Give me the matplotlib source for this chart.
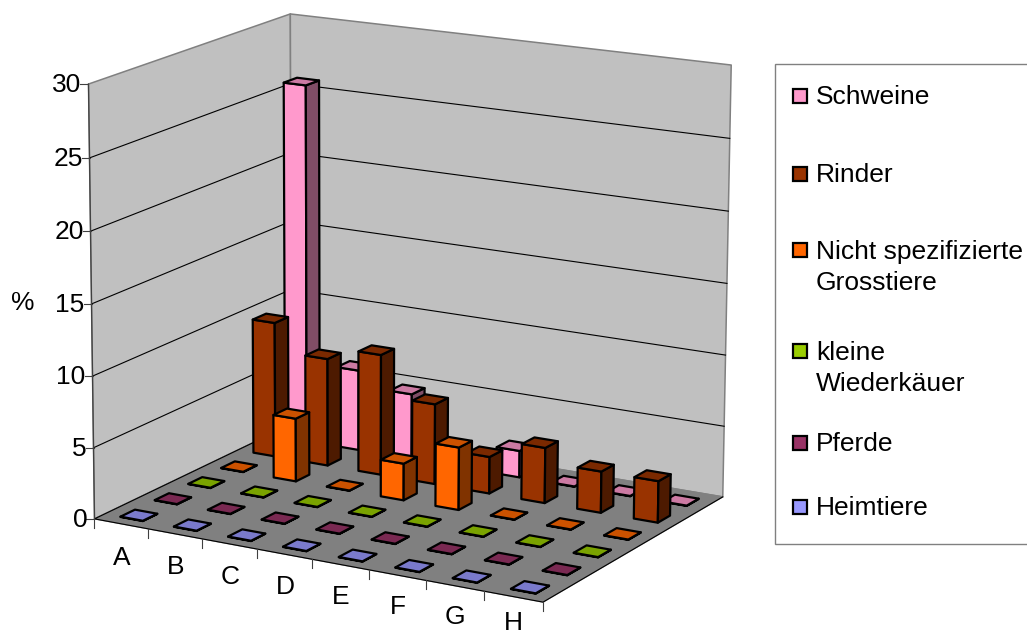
# 3D column chart, drawn on a flat axes with a fitted camera matrix
import matplotlib
matplotlib.use('Agg')
import matplotlib.pyplot as plt
from matplotlib.patches import Polygon, Rectangle
import numpy as np

plt.rcParams['font.family'] = ['Liberation Sans', 'DejaVu Sans']

categories = ['A', 'B', 'C', 'D', 'E', 'F', 'G', 'H']
series_names = ['Heimtiere', 'Pferde', 'kleine\nWiederkäuer',
                'Nicht spezifizierte\nGrosstiere', 'Rinder', 'Schweine']
heimtiere = [0.02, 0.02, 0.02, 0.02, 0.02, 0.02, 0.02, 0.02]
pferde = [0.02, 0.02, 0.02, 0.02, 0.02, 0.02, 0.02, 0.02]
wiederkaeuer = [0.02, 0.02, 0.02, 0.02, 0.02, 0.02, 0.02, 0.02]
grosstiere = [0.02, 4.5, 0.02, 2.6, 4.4, 0.02, 0.02, 0.02]
rinder = [9.7, 7.7, 8.6, 5.7, 2.6, 3.9, 2.9, 2.9]
schweine = [25.8, 5.8, 4.7, 0.5, 1.9, 0.02, 0.02, 0.02]
series = [heimtiere, pferde, wiederkaeuer, grosstiere, rinder, schweine]
yticks = [0, 5, 10, 15, 20, 25, 30]

# front, top, side
colors = [('#9999FF', '#7A7ACC', '#4D4D80'),
          ('#993366', '#7A2952', '#4D1A33'),
          ('#99CC00', '#7AA300', '#4D6600'),
          ('#FF6600', '#CC5200', '#803300'),
          ('#993300', '#7A2900', '#4D1A00'),
          ('#FF99CC', '#CC7AA3', '#804D66')]

# fit the camera from where the box corners sit in the picture
world = [(0, 0, 0), (8, 0, 0), (0, 6, 0), (8, 6, 0), (0, 0, 30), (0, 6, 30), (8, 6, 30)]
image = [(95, 519), (543, 602), (291, 424), (723, 497), (88, 84), (291, 14), (731, 65)]
A = []
b = []
for (X, Y, Z), (u, v) in zip(world, image):
    A.append([X, Y, Z, 1, 0, 0, 0, 0, -u * X, -u * Y, -u * Z])
    A.append([0, 0, 0, 0, X, Y, Z, 1, -v * X, -v * Y, -v * Z])
    b += [u, v]
P = np.append(np.linalg.lstsq(np.array(A, float), np.array(b, float), rcond=None)[0], 1).reshape(3, 4)


def proj(x, y, z):
    h = P @ np.array([x, y, z, 1.0])
    return h[0] / h[2], h[1] / h[2]


fig = plt.figure(figsize=(10.27, 6.37), dpi=100)
ax = fig.add_axes([0, 0, 1, 1])
ax.set_xlim(0, 1027)
ax.set_ylim(637, 0)
ax.axis('off')


def face(pts, fc, ec='black', lw=1.6, z=1):
    ax.add_patch(Polygon([proj(*p) for p in pts], closed=True, fc=fc, ec=ec, lw=lw,
                         joinstyle='round', zorder=z))


# walls and floor
top = yticks[-1]
nx = len(categories)
ny = len(series)
face([(0, 0, 0), (0, ny, 0), (0, ny, top), (0, 0, top)], '#C0C0C0', ec='#808080', lw=1.1)
face([(0, ny, 0), (nx, ny, 0), (nx, ny, top), (0, ny, top)], '#C0C0C0', ec='#808080', lw=1.1)
for t in yticks[1:-1]:
    xs, ys = zip(proj(0, 0, t), proj(0, ny, t), proj(nx, ny, t))
    ax.plot(xs, ys, color='black', lw=0.8, zorder=1.5)
face([(0, 0, 0), (nx, 0, 0), (nx, ny, 0), (0, ny, 0)], '#808080', ec='#808080', lw=1.0)
xs, ys = zip(proj(0, ny, 0), proj(0, 0, 0), proj(nx, 0, 0), proj(nx, ny, 0))
ax.plot(xs, ys, color='black', lw=0.8, zorder=1.6)

# value axis
xs, ys = zip(proj(0, 0, 0), proj(0, 0, top))
ax.plot(xs, ys, color='#404040', lw=0.9, zorder=1.6)
for t in yticks:
    x, y = proj(0, 0, t)
    ax.plot([x - 8, x], [y, y], color='#404040', lw=0.8)
    ax.text(x - 7, y + 1, str(t), ha='right', va='center', fontsize=19)
ax.text(23, 303, '%', ha='center', va='center', fontsize=19)

# category axis
for i in range(nx + 1):
    x, y = proj(i, 0, 0)
    ax.plot([x, x], [y, y + 9], color='#404040', lw=0.8)
for i, c in enumerate(categories):
    x, y = proj(i + 0.5, 0, 0)
    # keep the last label inside the picture
    ax.text(x + 1 - 0.1 * i, min(y + 34 - 0.5 * i, 623), c, ha='center', va='center', fontsize=19)

# bars, back row first, left to right inside a row
w = 0.21
d = 0.21
zo = 2
for j in range(ny - 1, -1, -1):
    for i, val in enumerate(series[j]):
        cx = i + 0.51
        cy = j + 0.5
        x0, x1, y0, y1 = cx - w, cx + w, cy - d, cy + d
        front, topc, side = colors[j]
        face([(x0, y0, 0), (x1, y0, 0), (x1, y0, val), (x0, y0, val)], front, z=zo)
        face([(x1, y0, 0), (x1, y1, 0), (x1, y1, val), (x1, y0, val)], side, z=zo)
        face([(x0, y0, val), (x1, y0, val), (x1, y1, val), (x0, y1, val)], topc, z=zo)
        zo += 1

# legend
ax.add_patch(Rectangle((775, 64), 260, 480, fc='white', ec='#808080', lw=1.0, zorder=zo))
legend_y = [96, 174, 266.5, 367.5, 443, 507]
for name, col, ly in zip(series_names[::-1], colors[::-1], legend_y):
    first_line_y = ly if '\n' not in name else ly - 16.5
    ax.add_patch(Rectangle((793, first_line_y - 7), 14, 14, fc=col[0], ec='black', lw=1.6, zorder=zo + 1))
    ax.text(816, ly + 1, name, ha='left', va='center', fontsize=19, linespacing=1.42, zorder=zo + 1)

fig.savefig('out.png', dpi=100)
